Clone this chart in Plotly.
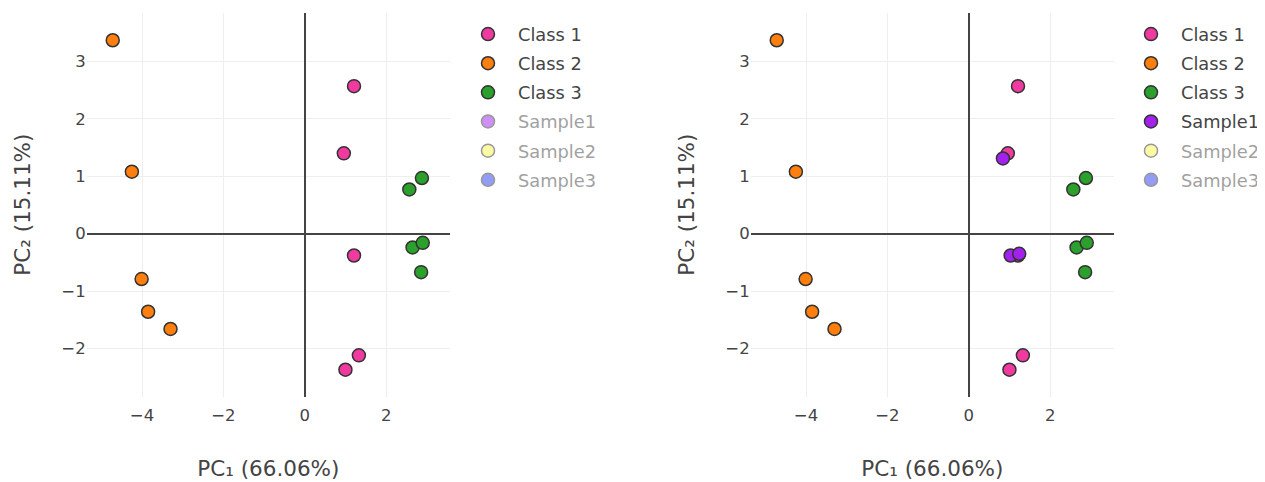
import plotly.graph_objects as go

# ---- data ----
class1_x = [1.21, 0.96, 1.21, 1.33, 1.00]
class1_y = [2.57, 1.40, -0.38, -2.12, -2.37]
class2_x = [-4.72, -4.25, -4.01, -3.85, -3.30]
class2_y = [3.37, 1.08, -0.79, -1.36, -1.66]
class3_x = [2.57, 2.88, 2.65, 2.90, 2.86]
class3_y = [0.77, 0.97, -0.24, -0.16, -0.67]
sample1_x = [0.84, 1.03, 1.24]
sample1_y = [1.31, -0.38, -0.35]
sample2_x = [None]   # hidden in the reference (legend only)
sample2_y = [None]
sample3_x = [None]   # hidden in the reference (legend only)
sample3_y = [None]

series_names = ["Class 1", "Class 2", "Class 3", "Sample1", "Sample2", "Sample3"]
series_x = [class1_x, class2_x, class3_x, sample1_x, sample2_x, sample3_x]
series_y = [class1_y, class2_y, class3_y, sample1_y, sample2_y, sample3_y]
colors = ["#f03aa0", "#ff7f0e", "#2ca02c", "#a321ee", "#f8f84a", "#2a3cee"]
visible_left = [True, True, True, "legendonly", "legendonly", "legendonly"]
visible_right = [True, True, True, True, "legendonly", "legendonly"]

x_title = "PC₁ (66.06%)"
y_title = "PC₂ (15.11%)"

OFF = 8  # page body margin
W, H = 1265 - OFF, 482 - OFF
FONT = "DejaVu Sans"

fig = go.Figure()
for panel, (xa, ya, leg, vis) in enumerate([("x", "y", "legend", visible_left),
                                            ("x2", "y2", "legend2", visible_right)]):
    for i, name in enumerate(series_names):
        fig.add_trace(go.Scatter(
            x=series_x[i], y=series_y[i], name=name, mode="markers",
            xaxis=xa, yaxis=ya, legend=leg, visible=vis[i],
            legendgroup=f"{panel}-{i}",
            marker=dict(size=13, color=colors[i],
                        line=dict(color="#333333", width=1.5)),
        ))

# pixel geometry (page coordinates minus body offset)
top_px, bot_px = 12.7 - OFF, 396.7 - OFF
left1, right1 = 86.7 - OFF, 450.0 - OFF
left2, right2 = 750.7 - OFF, 1114.0 - OFF
ydom = [1 - bot_px / H, 1 - top_px / H]

axis_common = dict(
    showgrid=True, gridcolor="#eeeeee", gridwidth=1,
    zeroline=True, zerolinecolor="#444444", zerolinewidth=1.8,
    showline=False, ticks="",
    tickfont=dict(family=FONT, size=16.5, color="#444444"),
    title_font=dict(family=FONT, size=21.5, color="#444444"),
)
xrange = [-5.36, 3.57]
yrange = [-2.84, 3.85]

leg_common = dict(xanchor="left", yanchor="top",
                  font=dict(family=FONT, size=17.8, color="#444444"),
                  tracegroupgap=3, itemwidth=50,
                  itemclick=False, itemdoubleclick=False)

fig.update_layout(
    width=W, height=H,
    margin=dict(l=0, r=0, t=0, b=0),
    paper_bgcolor="white", plot_bgcolor="white",
    font=dict(family=FONT, color="#444444"),
    showlegend=True,
    xaxis=dict(domain=[left1 / W, right1 / W], range=xrange, dtick=2, ticklabelstandoff=7,
               title=dict(text=x_title, standoff=36), anchor="y", **axis_common),
    yaxis=dict(domain=ydom, range=yrange, dtick=1,
               title=dict(text=y_title, standoff=24), anchor="x", **axis_common),
    xaxis2=dict(domain=[left2 / W, right2 / W], range=xrange, dtick=2, ticklabelstandoff=7,
                title=dict(text=x_title, standoff=36), anchor="y2", **axis_common),
    yaxis2=dict(domain=ydom, range=yrange, dtick=1,
                title=dict(text=y_title, standoff=24), anchor="x2", **axis_common),
    legend=dict(x=450 / W, y=1 - 8.0 / H, **leg_common),
    legend2=dict(x=1113 / W, y=1 - 8.0 / H, **leg_common),
)

fig.write_html("out.html")
